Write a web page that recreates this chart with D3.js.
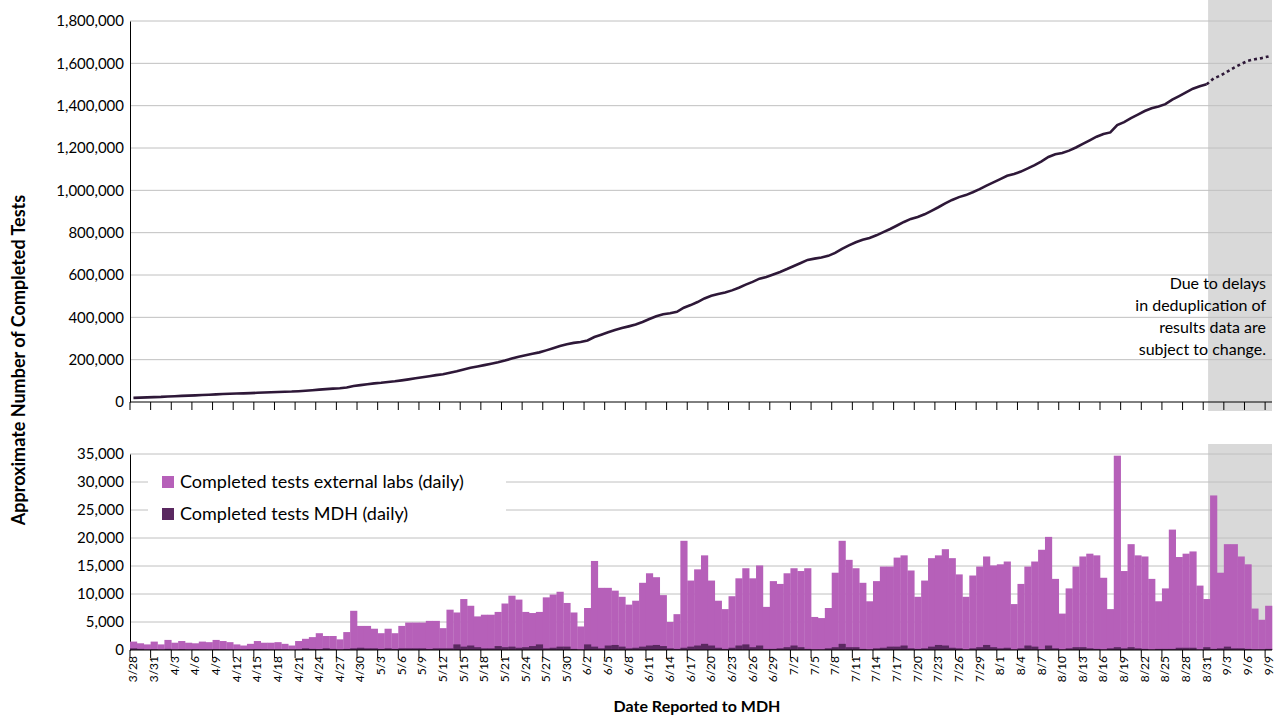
<!DOCTYPE html>
<html><head><meta charset="utf-8">
<script src="https://cdn.jsdelivr.net/npm/d3@7"></script>
<style>body{margin:0;background:#fff}svg{font-family:Lato,"Open Sans",sans-serif}</style>
</head><body><svg id="c" width="1280" height="720"></svg>
<script>
const startDate = "2020-03-28";
const nDays = 166;
const totalDaily = [1500,1200,1000,1500,1000,1800,1300,1600,1300,1200,1500,1400,1800,1600,1400,1000,800,1100,1600,1300,1300,1400,1100,800,1600,
2000,2300,3000,2500,2500,1900,3200,7000,4300,4300,3800,3000,3800,3000,4300,4900,4900,4900,5200,5200,3900,
7200,6700,9100,7900,6000,6300,6300,6800,8300,9700,9000,6800,6600,6800,9400,9900,10400,8400,6700,4200,
7500,15900,11100,11100,10600,9500,8100,8800,12000,13700,13000,9800,5000,6400,19500,12400,14400,16900,12400,8800,7300,9600,12800,14600,12800,15100,7700,12300,11800,
13700,14600,14100,14600,5900,5700,7500,13800,19500,16100,14600,12000,8700,12300,14900,14900,16500,16900,14200,9500,12400,16400,16900,18000,16400,13500,9500,13300,14900,16700,15100,
15300,15800,8200,11800,14900,15800,17900,20200,12700,6500,11000,14900,16700,17200,16900,12900,7300,34700,14100,18900,16900,16700,12700,8700,11000,21500,16600,17200,17600,11500,9100,
27600,13800,18900,18900,16700,15300,7400,5400,7900];
const mdhDaily = [300,200,100,150,100,200,100,150,100,150,120,100,150,120,100,80,60,100,150,120,100,100,80,60,100,
300,200,150,300,200,100,200,300,400,300,300,200,300,200,300,300,300,300,200,300,300,
300,1000,600,800,500,300,300,700,500,600,400,500,700,1000,300,400,600,600,200,100,
1000,600,300,800,900,600,300,400,600,800,900,700,300,200,400,600,800,1100,800,400,200,400,800,1000,500,800,200,200,300,
500,800,500,200,100,100,300,500,1100,500,500,200,100,300,400,600,600,800,300,200,300,600,900,800,400,300,100,300,500,900,500,
300,400,100,300,800,600,100,800,300,100,300,500,500,300,200,100,300,500,300,500,300,200,100,200,200,200,400,400,400,100,500,
200,300,600,300,300,200,100,100,200];
const cumStart = 18000;
const yTopTicks = [0,200000,400000,600000,800000,1000000,1200000,1400000,1600000,1800000];
const yBotTicks = [0,5000,10000,15000,20000,25000,30000,35000];
const noteLines = ["Due to delays","in deduplication of","results data are","subject to change."];
const legendLabels = ["Completed tests external labs (daily)","Completed tests MDH (daily)"];
const dashFrom = 156; // index of 8/31

const parse = d3.timeParse("%Y-%m-%d"), fmtD = d3.timeFormat("%-m/%-d");
const t0 = parse(startDate);
const days = d3.range(nDays).map(i => d3.timeDay.offset(t0, i));
let acc = cumStart;
const cum = totalDaily.map(v => (acc += v));

const svg = d3.select("#c");
const L = 130, R = 1272;
const x = d3.scaleBand().domain(d3.range(nDays)).range([L, R]).padding(0);
const yT = d3.scaleLinear().domain([0,1800000]).range([402,21]);
const yB = d3.scaleLinear().domain([0,35000]).range([650,454]);
const bw = x.bandwidth();
const fmt = d3.format(",");

// shaded region
const shadeX = x(dashFrom+1) - 2;
svg.append("rect").attr("x", shadeX).attr("y", 0).attr("width", R - shadeX).attr("height", 411).attr("fill", "#d9d9d9");
svg.append("rect").attr("x", shadeX).attr("y", 444).attr("width", R - shadeX).attr("height", 206).attr("fill", "#d9d9d9");

// grids
svg.append("g").selectAll("line").data(yTopTicks.slice(1)).join("line")
  .attr("x1", L).attr("x2", R).attr("y1", d => yT(d)).attr("y2", d => yT(d)).attr("stroke", "#c0c0c0");
svg.append("g").selectAll("line").data(yBotTicks.slice(1)).join("line")
  .attr("x1", L).attr("x2", R).attr("y1", d => yB(d)).attr("y2", d => yB(d)).attr("stroke", "#c0c0c0");

// y axes
const gyT = svg.append("g").attr("transform", `translate(${L},0)`)
  .call(d3.axisLeft(yT).tickValues(yTopTicks).tickFormat(fmt).tickSize(0).tickPadding(6));
const gyB = svg.append("g").attr("transform", `translate(${L},0)`)
  .call(d3.axisLeft(yB).tickValues(yBotTicks).tickFormat(fmt).tickSize(0).tickPadding(6));
[gyT, gyB].forEach(g => { g.select(".domain").attr("stroke", "#000"); g.selectAll("text").attr("font-size", 15).attr("fill", "#000").attr("font-family","Lato"); });

// bars
svg.append("g").selectAll("rect").data(d3.range(nDays)).join("rect")
  .attr("x", i => x(i)).attr("width", bw + 0.3)
  .attr("y", i => yB(totalDaily[i])).attr("height", i => yB(0) - yB(totalDaily[i])).attr("fill", "#b660b9");
svg.append("g").selectAll("rect").data(d3.range(nDays)).join("rect")
  .attr("x", i => x(i)).attr("width", bw + 0.3)
  .attr("y", i => yB(mdhDaily[i])).attr("height", i => yB(0) - yB(mdhDaily[i])).attr("fill", "#5a2860");

// line
const line = d3.line().x(i => x(i) + bw/2).y(i => yT(cum[i]));
svg.append("path").attr("d", line(d3.range(0, dashFrom+1))).attr("fill","none").attr("stroke","#2e1838").attr("stroke-width",2.6);
svg.append("path").attr("d", line(d3.range(dashFrom, nDays))).attr("fill","none").attr("stroke","#2e1838").attr("stroke-width",2.6).attr("stroke-dasharray","3,3");

// x axes
const xTicks = d3.range(0, nDays, 3);
[402, 650].forEach(yy => {
  const g = svg.append("g").attr("transform", `translate(0,${yy})`);
  g.append("line").attr("x1", L).attr("x2", R).attr("stroke", "#000");
  g.selectAll("line.t").data(xTicks).join("line").attr("class","t")
    .attr("x1", i => x(i)).attr("x2", i => x(i)).attr("y1", 0).attr("y2", 8).attr("stroke", "#000");
});
svg.append("g").selectAll("text").data(xTicks).join("text")
  .attr("transform", i => `translate(${x(i) + bw/2 + 4},656) rotate(-90)`)
  .attr("text-anchor", "end").attr("font-size", 12).text(i => fmtD(days[i]));

// note
svg.append("text").attr("text-anchor","end").attr("font-size",16).selectAll("tspan").data(noteLines).join("tspan")
  .attr("x", 1266).attr("y", (d,i) => 289 + i*22).text(d => d);

// legend
svg.append("rect").attr("x",148).attr("y",463).attr("width",358).attr("height",70).attr("fill","#fff");
const lg = svg.append("g").selectAll("g").data(legendLabels).join("g").attr("transform",(d,i)=>`translate(162,${476 + i*32})`);
lg.append("rect").attr("width",12).attr("height",12).attr("fill",(d,i)=> i ? "#5a2860" : "#b660b9");
lg.append("text").attr("x",18).attr("y",12).attr("font-size",18).text(d=>d);

// titles
svg.append("text").attr("transform","translate(25,360) rotate(-90)").attr("text-anchor","middle").attr("font-size",18).attr("font-weight","bold").text("Approximate Number of Completed Tests");
svg.append("text").attr("x",697).attr("y",712).attr("text-anchor","middle").attr("font-size",16).attr("font-weight","bold").text("Date Reported to MDH");
</script></body></html>
